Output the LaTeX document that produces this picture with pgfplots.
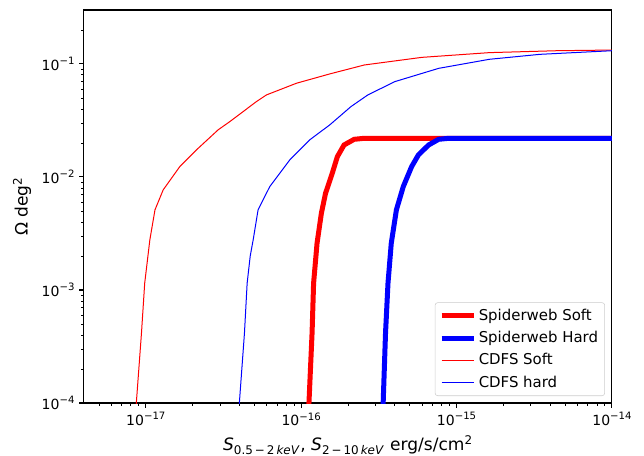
\documentclass[border=0pt]{standalone}
\usepackage{pgfplots}
\pgfplotsset{compat=1.18}
\usepackage{fontspec}
\setmainfont{DejaVu Sans}
\newcommand{\tpow}[1]{10\raisebox{0.42em}{\fontsize{7.6}{8}\selectfont −#1}}
\begin{document}
\begin{tikzpicture}
\begin{axis}[
  at={(0,0)}, anchor=south west,
  scale only axis,
  width=396pt, height=294.75pt,
  xmode=log, ymode=log,
  xmin=4e-18, xmax=1e-14,
  ymin=1e-4, ymax=0.3,
  axis line style={line width=0.8pt},
  tick align=outside,
  xtick pos=bottom, ytick pos=left,
  major tick length=3.6pt, minor tick length=2.1pt,
  every tick/.style={black, line width=0.8pt},
  minor tick style={line width=0.6pt},
  xtick={1e-17,1e-16,1e-15,1e-14},
  xticklabels={\tpow{17},\tpow{16},\tpow{15},\tpow{14}},
  minor xtick={5e-18,6e-18,7e-18,8e-18,9e-18,2e-17,3e-17,4e-17,5e-17,6e-17,7e-17,8e-17,9e-17,2e-16,3e-16,4e-16,5e-16,6e-16,7e-16,8e-16,9e-16,2e-15,3e-15,4e-15,5e-15,6e-15,7e-15,8e-15,9e-15},
  ytick={1e-4,1e-3,1e-2,1e-1},
  yticklabels={\tpow{4},\tpow{3},\tpow{2},\tpow{1}},
  minor ytick={2e-4,3e-4,4e-4,5e-4,6e-4,7e-4,8e-4,9e-4,2e-3,3e-3,4e-3,5e-3,6e-3,7e-3,8e-3,9e-3,2e-2,3e-2,4e-2,5e-2,6e-2,7e-2,8e-2,9e-2,2e-1},
  tick label style={font=\fontsize{10.5}{12}\selectfont},
  xlabel={\textit{S}\textsubscript{0.5\,−\,2\,\textit{keV}}, \textit{S}\textsubscript{2\,−\,10\,\textit{keV}} erg/s/cm\textsuperscript{2}},
  ylabel={Ω deg\textsuperscript{2}},
  label style={font=\fontsize{12.8}{15}\selectfont},
  xlabel style={at={(axis description cs:0.5,-0.107)}, anchor=center},
  ylabel style={at={(axis description cs:-0.117,0.5)}, anchor=center},
  legend style={at={(1,0)}, anchor=south east, xshift=-5.25pt, yshift=5.25pt,
    draw=black!20, rounded corners=2pt, fill=white, fill opacity=0.8, text opacity=1,
    font=\fontsize{11.2}{13}\selectfont, row sep=2.6pt, inner sep=3pt},
  legend cell align=left,
  legend image code/.code={\draw[#1] (0pt,0pt) -- (24pt,0pt);},
]
\addplot[red, line width=3.75pt] coordinates {
(1.115e-16,7e-5) (1.122e-16,1e-4) (1.175e-16,4.16e-4) (1.202e-16,1.15e-3) (1.265e-16,2.59e-3)
(1.349e-16,4.78e-3) (1.435e-16,7.18e-3) (1.585e-16,1.079e-2) (1.71e-16,1.514e-2)
(1.888e-16,1.919e-2) (2.193e-16,2.153e-2) (2.55e-16,2.198e-2) (1e-14,2.198e-2)};
\addlegendentry{Spiderweb Soft}
\addplot[blue, line width=3.75pt] coordinates {
(3.35e-16,7e-5) (3.37e-16,1e-4) (3.49e-16,4.16e-4) (3.62e-16,1.15e-3) (3.80e-16,2.59e-3)
(4.10e-16,5.12e-3) (4.54e-16,8.22e-3) (5.14e-16,1.236e-2) (5.68e-16,1.567e-2)
(6.61e-16,1.919e-2) (7.67e-16,2.153e-2) (8.91e-16,2.198e-2) (1e-14,2.198e-2)};
\addlegendentry{Spiderweb Hard}
\addplot[red, line width=0.75pt, line join=round] coordinates {
(8.53e-18,7e-5) (8.69e-18,1e-4) (9.38e-18,4.16e-4) (9.84e-18,1.15e-3) (1.062e-17,2.78e-3)
(1.146e-17,5.12e-3) (1.294e-17,7.69e-3) (1.656e-17,1.236e-2) (2.12e-17,1.738e-2)
(2.92e-17,2.61e-2) (3.475e-17,3.09e-2) (5.16e-17,4.65e-2) (5.98e-17,5.32e-2)
(9.33e-17,6.75e-2) (1.528e-16,8.16e-2) (2.55e-16,9.79e-2) (5.97e-16,0.1143)
(1.626e-15,0.1259) (4.43e-15,0.1309) (1e-14,0.1327)};
\addlegendentry{CDFS Soft}
\addplot[blue, line width=0.75pt, line join=round] coordinates {
(3.93e-17,7.1e-5) (4.0e-17,1e-4) (4.315e-17,4.16e-4) (4.49e-17,1.15e-3) (4.7e-17,2.0e-3)
(4.91e-17,2.78e-3) (5.28e-17,5.12e-3) (6.28e-17,8.22e-3) (8.45e-17,1.416e-2)
(1.135e-16,2.13e-2) (1.528e-16,2.89e-2) (2.09e-16,4.19e-2)
(2.68e-16,5.31e-2) (4.0e-16,6.97e-2) (7.67e-16,9.14e-2) (1.626e-15,0.1099)
(3.44e-15,0.1216) (1e-14,0.1309)};
\addlegendentry{CDFS hard}
\end{axis}
\pgfresetboundingbox
\path (-63pt,-39pt) rectangle (420pt,302.25pt);
\end{tikzpicture}
\end{document}
